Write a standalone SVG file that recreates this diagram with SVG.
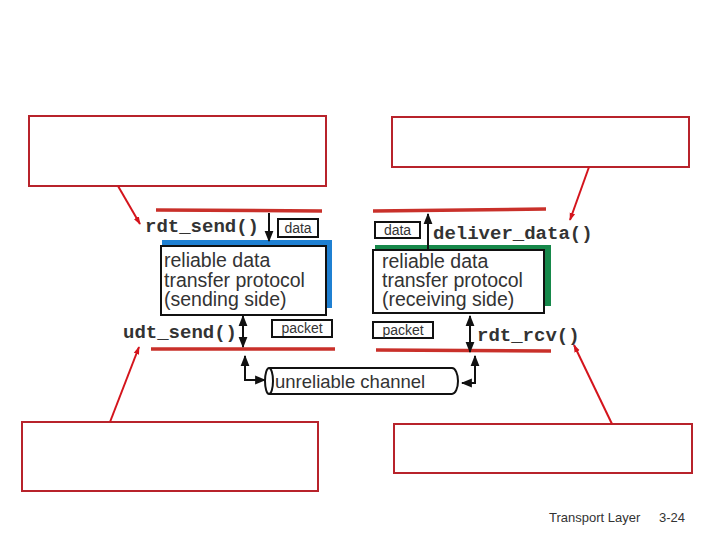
<svg xmlns="http://www.w3.org/2000/svg" width="720" height="540" viewBox="0 0 720 540">
<defs>
<marker id="ahb" viewBox="0 0 10 10" refX="9" refY="5" markerWidth="11" markerHeight="11" orient="auto-start-reverse" markerUnits="userSpaceOnUse">
<path d="M0,1 L10,5 L0,9 z" fill="#111"/>
</marker>
<marker id="ahr" viewBox="0 0 10 10" refX="9" refY="5" markerWidth="8" markerHeight="8" orient="auto" markerUnits="userSpaceOnUse">
<path d="M0,1.5 L10,5 L0,8.5 z" fill="#d4141c"/>
</marker>
</defs>
<style>
.note{fill:#fff;stroke:#b8232b;stroke-width:2}
.layer{stroke:#c9302a;stroke-width:3.5;fill:none}
.red{stroke:#d4141c;stroke-width:2;fill:none}
.blk{stroke:#111;stroke-width:2;fill:none}
.mono{font-family:"Liberation Mono","Courier New",monospace;font-weight:bold;font-size:19px;fill:#333}
.sans{font-family:"Liberation Sans",Arial,sans-serif;fill:#333}
.big{font-size:19.5px}
.small{font-size:14px}
.tag{fill:#fff;stroke:#111;stroke-width:2}
.box{fill:#fff;stroke:#111;stroke-width:2}
</style>
<rect width="720" height="540" fill="#fff"/>

<g id="note-top-left"><rect class="note" x="29" y="116" width="297" height="70"/></g>
<g id="note-top-right"><rect class="note" x="392" y="117" width="297" height="50"/></g>
<g id="note-bottom-left"><rect class="note" x="22" y="422" width="296" height="69"/></g>
<g id="note-bottom-right"><rect class="note" x="394" y="424" width="298" height="49"/></g>

<g id="layers">
<line class="layer" x1="156" y1="210" x2="322" y2="211"/>
<line class="layer" x1="373" y1="211" x2="546" y2="209"/>
<line class="layer" x1="151" y1="349" x2="335" y2="349"/>
<line class="layer" x1="376" y1="350" x2="551" y2="351"/>
</g>

<g id="sender">
<rect x="162" y="240" width="170" height="68" fill="#1f80d2"/>
<rect class="box" x="161" y="246" width="165" height="69"/>
<text class="sans big" x="164" y="267">reliable data</text>
<text class="sans big" x="164" y="287">transfer protocol</text>
<text class="sans big" x="164" y="306">(sending side)</text>
</g>

<g id="receiver">
<rect x="375" y="245" width="176" height="61" fill="#16884a"/>
<rect class="box" x="373" y="250" width="171" height="63"/>
<text class="sans big" x="382" y="268">reliable data</text>
<text class="sans big" x="382" y="287">transfer protocol</text>
<text class="sans big" x="382" y="306">(receiving side)</text>
</g>

<g id="channel">
<path d="M269,368 H452 A6,13 0 0 1 452,394 H269" fill="#fff" stroke="#111" stroke-width="2"/>
<ellipse cx="269" cy="381" rx="4" ry="13" fill="#fff" stroke="#111" stroke-width="2"/>
<text class="sans" x="275" y="388" font-size="18.5">unreliable channel</text>
</g>

<g id="labels">
<text class="mono" x="145" y="232">rdt_send()</text>
<rect class="tag" x="278" y="219" width="40" height="18"/>
<text class="sans small" x="298" y="233" text-anchor="middle">data</text>
<text class="mono" x="433" y="239">deliver_data()</text>
<rect class="tag" x="375" y="222" width="45" height="16"/>
<text class="sans small" x="397.500" y="235" text-anchor="middle">data</text>
<text class="mono" x="123" y="338">udt_send()</text>
<rect class="tag" x="272" y="320" width="60" height="17"/>
<text class="sans small" x="302" y="333" text-anchor="middle">packet</text>
<text class="mono" x="477" y="341">rdt_rcv()</text>
<rect class="tag" x="373" y="322" width="60" height="16"/>
<text class="sans small" x="403" y="335" text-anchor="middle">packet</text>
</g>

<g id="connectors">
<line class="blk" x1="269" y1="213" x2="269" y2="241" marker-end="url(#ahb)"/>
<line class="blk" x1="428" y1="250" x2="428" y2="214" marker-end="url(#ahb)"/>
<line class="blk" x1="243" y1="316" x2="243" y2="347" marker-start="url(#ahb)" marker-end="url(#ahb)"/>
<line class="blk" x1="470" y1="316" x2="470" y2="352" marker-start="url(#ahb)" marker-end="url(#ahb)"/>
<polyline class="blk" points="245,356 245,380 265,380" marker-start="url(#ahb)" marker-end="url(#ahb)"/>
<polyline class="blk" points="475,356 475,383 462,383" marker-start="url(#ahb)" marker-end="url(#ahb)"/>
<line class="red" x1="118" y1="186" x2="140" y2="224" marker-end="url(#ahr)"/>
<line class="red" x1="589" y1="167" x2="570" y2="220" marker-end="url(#ahr)"/>
<line class="red" x1="110" y1="422" x2="139" y2="347" marker-end="url(#ahr)"/>
<line class="red" x1="612" y1="424" x2="574" y2="345" marker-end="url(#ahr)"/>
</g>

<g id="footer">
<text class="sans" x="549" y="522" font-size="13" fill="#111">Transport Layer</text>
<text class="sans" x="659" y="522" font-size="13" fill="#111">3-24</text>
</g>
</svg>
